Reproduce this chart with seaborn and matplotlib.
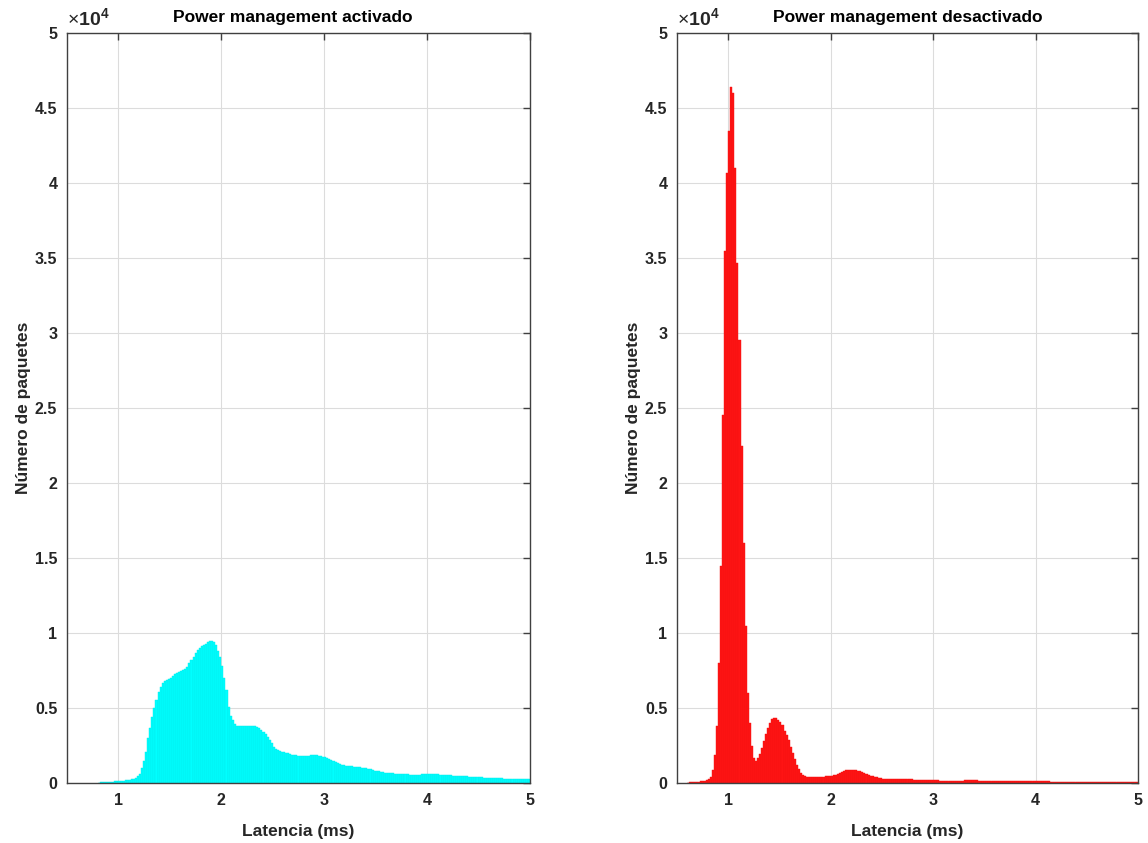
import numpy as np
import pandas as pd
import matplotlib
matplotlib.use("Agg")
import matplotlib.pyplot as plt
import seaborn as sns
from matplotlib.ticker import FuncFormatter

# ---------------- data ----------------
bin_width = 0.02  # ms

# Power management activado (cyan) – bins start at 0.80 ms
on_start = 0.80
on_counts = [
    20, 40, 50, 60, 70, 80, 90, 100, 110, 125,
    135, 150, 165, 180, 195, 215, 240, 280, 350, 440,
    600, 1000, 1500, 2100, 3000, 3700, 4400, 5000, 5550, 6100,
    6400, 6650, 6780, 6880, 6960, 7010, 7130, 7250, 7320, 7400,
    7450, 7530, 7620, 7720, 7980, 8200, 8400, 8640, 8850, 9000,
    9130, 9200, 9300, 9400, 9450, 9480, 9420, 9200, 8800, 8400,
    7800, 7000, 6200, 5100, 4450, 4200, 3950, 3820, 3800, 3800,
    3780, 3800, 3810, 3790, 3800, 3810, 3780, 3720, 3650, 3560,
    3400, 3250, 3050, 2850, 2640, 2420, 2300, 2200, 2130, 2080,
    2050, 2010, 1980, 1950, 1900, 1870, 1840, 1820, 1820, 1830,
    1820, 1820, 1830, 1850, 1865, 1870, 1860, 1830, 1790, 1760,
    1720, 1680, 1610, 1540, 1460, 1390, 1330, 1270, 1225, 1190,
    1160, 1140, 1120, 1110, 1100, 1090, 1070, 1060, 1030, 1010,
    990, 950, 930, 880, 830, 800, 770, 750, 735, 700,
    690, 670, 650, 640, 625, 610, 600, 595, 585, 578,
    570, 565, 558, 555, 556, 560, 565, 572, 580, 590,
    600, 598, 592, 585, 580, 572, 565, 555, 545, 533,
    522, 510, 500, 492, 485, 475, 466, 455, 447, 440,
    430, 420, 410, 400, 390, 378, 370, 362, 355, 350,
    343, 336, 330, 323, 315, 308, 302, 296, 290, 285,
    280, 276, 272, 268, 265, 262, 258, 254, 250, 245,
]

# Power management desactivado (red) – bins start at 0.60 ms
off_start = 0.60
off_counts = [
    30, 40, 50, 60, 70, 90, 110, 130, 150, 190,
    250, 380, 850, 1900, 3800, 8000, 14500, 24500, 35500, 40700,
    43500, 46400, 46000, 41000, 34700, 29500, 22500, 16000, 10500, 6000,
    4000, 2500, 1700, 1500, 1650, 1950, 2350, 2800, 3250, 3700,
    4030, 4250, 4350, 4330, 4200, 4060, 3850, 3500, 3220, 2850,
    2400, 2000, 1600, 1200, 920, 700, 550, 470, 420, 390,
    380, 375, 378, 380, 390, 410, 425, 435, 450, 465,
    480, 520, 560, 620, 690, 740, 800, 840, 870, 890,
    885, 870, 850, 810, 770, 710, 640, 580, 530, 480,
    440, 400, 370, 340, 320, 300, 290, 278, 268, 262,
    258, 255, 252, 248, 246, 244, 242, 240, 238, 236,
    233, 230, 226, 222, 218, 214, 210, 205, 200, 193,
    186, 178, 172, 166, 162, 158, 156, 155, 155, 156,
    157, 158, 160, 162, 165, 168, 170, 172, 173, 172,
    170, 167, 163, 158, 154, 150, 147, 145, 143, 141,
    139, 137, 136, 135, 134, 133, 132, 130, 128, 126,
    124, 122, 120, 119, 118, 117, 116, 114, 112, 111,
    110, 108, 107, 105, 104, 102, 101, 99, 98, 97,
    95, 94, 93, 92, 90, 89, 88, 87, 86, 84,
    83, 82, 81, 80, 78, 77, 76, 75, 74, 72,
    71, 70, 69, 68, 67, 66, 65, 64, 63, 62,
    61, 60, 59, 58, 57, 56, 55, 54, 53, 52,
]

titles = ["Power management activado", "Power management desactivado"]
xlabel = "Latencia (ms)"
ylabel = "Número de paquetes"
x_ticks = [1, 2, 3, 4, 5]
y_ticks = [0, 5000, 10000, 15000, 20000, 25000, 30000, 35000, 40000, 45000, 50000]

# ---------------- style ----------------
sns.set_theme(style="white")
plt.rcParams["font.family"] = ["Liberation Sans", "DejaVu Sans"]
plt.rcParams["mathtext.fontset"] = "custom"
plt.rcParams["mathtext.rm"] = "Liberation Sans"
plt.rcParams["mathtext.bf"] = "Liberation Sans:bold"

TXT = "#262626"
fig = plt.figure(figsize=(11.48, 8.43), dpi=100)
ax1 = fig.add_axes([67 / 1148, 60 / 843, 463 / 1148, 750 / 843])
ax2 = fig.add_axes([677 / 1148, 60 / 843, 461 / 1148, 750 / 843])


def draw(ax, start, counts, face, edge, title, tx):
    n = len(counts)
    e = start + bin_width * np.arange(n + 1)
    df = pd.DataFrame({"lat": (e[:-1] + e[1:]) / 2, "n": np.asarray(counts, float)})
    sns.histplot(data=df, x="lat", weights="n", bins=list(e), ax=ax, color=face,
                 alpha=1.0, edgecolor=edge, linewidth=0.3, element="bars")
    ax.set_xlim(0.5, 5)
    ax.set_ylim(0, 50000)
    ax.set_xticks(x_ticks)
    ax.set_yticks(y_ticks)
    ax.yaxis.set_major_formatter(FuncFormatter(lambda v, p: f"{v/1e4:g}"))
    ax.xaxis.set_major_formatter(FuncFormatter(lambda v, p: f"{v:g}"))
    ax.grid(True, color="#dcdcdc", linewidth=0.8)
    ax.set_axisbelow(True)
    ax.tick_params(direction="in", length=5, width=1.0, color="#404040",
                   top=True, right=True, labelsize=11.5, labelcolor=TXT,
                   pad=7)
    for lab in ax.get_xticklabels() + ax.get_yticklabels():
        lab.set_fontweight("bold")
    for s in ax.spines.values():
        s.set_color("#404040")
        s.set_linewidth(1.0)
        s.set_zorder(5)
    ax.set_title(title, fontsize=12.5, fontweight="bold", color="black", pad=8, x=tx)
    ax.set_xlabel(xlabel, fontsize=12.5, fontweight="bold", color=TXT, labelpad=12)
    ax.set_ylabel(ylabel, fontsize=12.5, fontweight="bold", color=TXT, labelpad=3)
    ax.text(0.0, 1.004, r"$\times\mathbf{10}^{\mathbf{4}}$", transform=ax.transAxes,
            ha="left", va="bottom", fontsize=14, color=TXT)


draw(ax1, on_start, on_counts, "#00FFFF", "#00EAEA", titles[0], 0.488)
draw(ax2, off_start, off_counts, "#FF1414", "#F41010", titles[1], 0.5)

fig.savefig("out.png", dpi=100, facecolor="white")
